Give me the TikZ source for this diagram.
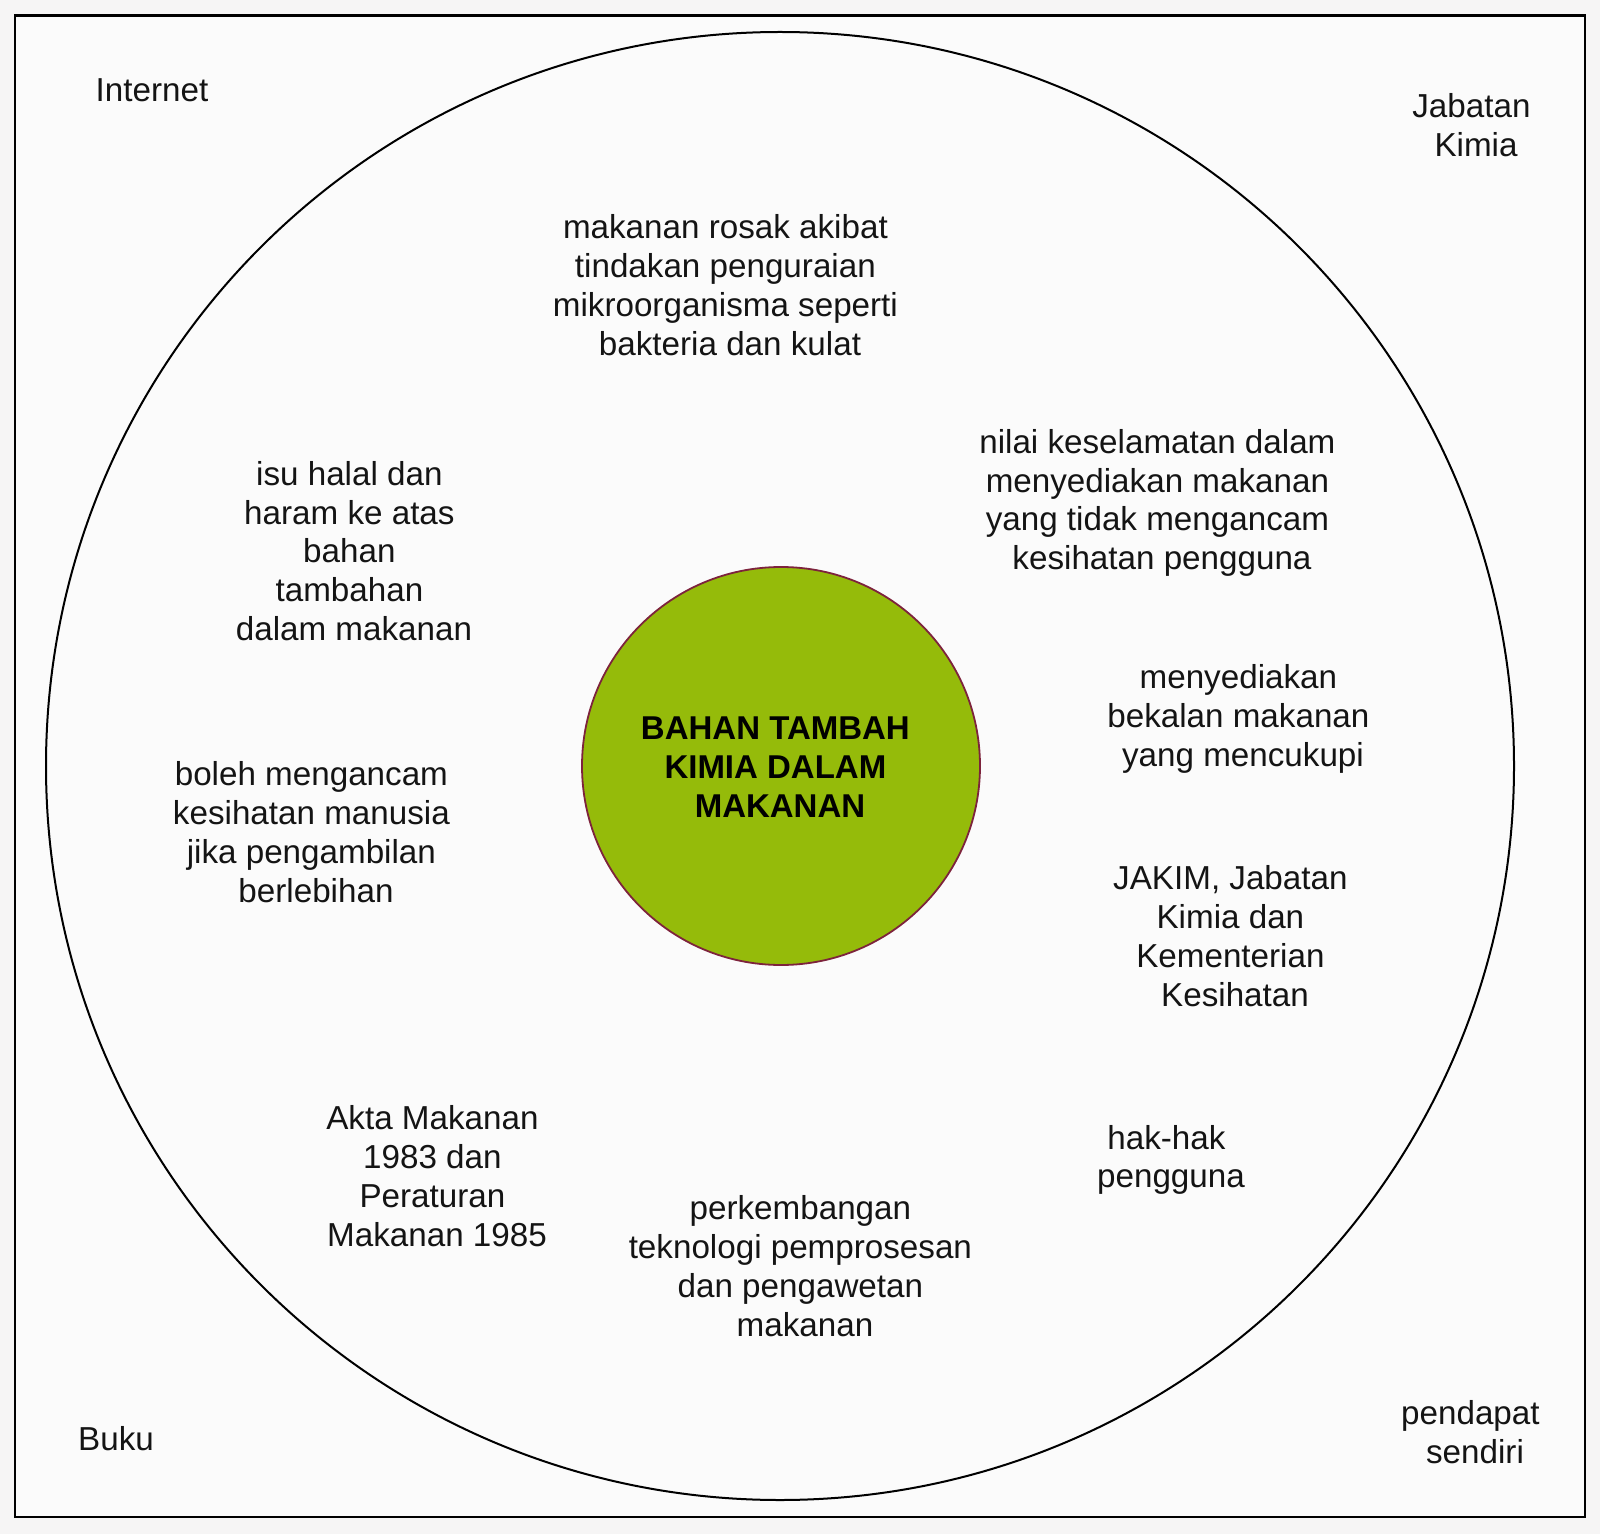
\documentclass[tikz,border=0pt]{standalone}
\usepackage{fontspec}
\setmainfont{Liberation Sans}
\definecolor{bg}{RGB}{246,245,245}
\definecolor{hubgreen}{RGB}{149,187,10}
\definecolor{hubedge}{RGB}{125,35,60}
\newcommand\tsp{\kern4.6pt}
\begin{document}
\begin{tikzpicture}[x=0.5pt,y=-0.5pt,
  lbl/.style={align=center,font=\fontsize{16.6}{19.4}\selectfont,inner sep=0pt,text=black!92},
  hubtxt/.style={align=center,font=\fontsize{16.5}{19.4}\selectfont\bfseries,inner sep=0pt}]
\useasboundingbox (0,0) rectangle (1600,1534);
\fill[bg] (0,0) rectangle (1600,1534);
\draw[line width=1.2pt,fill=white!60!bg] (15,15.5) rectangle (1585,1517);
\node[circle,draw=black,line width=1pt,minimum size=734pt,inner sep=0pt] (outer) at (780,766) {};
\node[circle,draw=hubedge,fill=hubgreen,line width=0.9pt,minimum size=199pt,inner sep=0pt] (hub) at (781,766) {};
\node[hubtxt] (hubt) at (780,767) {BAHAN TAMBAH\tsp\\KIMIA DALAM\tsp\\MAKANAN};

\node[lbl] (internet) at (152,90) {Internet};
\node[lbl] (jkimia) at (1476,125) {Jabatan\tsp\\Kimia};
\node[lbl] (buku) at (116,1439) {Buku};
\node[lbl] (pendapat) at (1475,1432) {pendapat\tsp\\sendiri};

\node[lbl] (rosak) at (730,285) {makanan rosak akibat\tsp\\tindakan penguraian\tsp\\mikroorganisma seperti\tsp\\bakteria dan kulat};
\node[lbl] (halal) at (354,551) {isu halal dan\tsp\\haram ke atas\tsp\\bahan\tsp\\tambahan\tsp\\dalam makanan};
\node[lbl] (nilai) at (1162,503) {nilai keselamatan dalam\tsp\\menyediakan makanan\tsp\\yang tidak mengancam\tsp\\kesihatan pengguna};
\node[lbl] (bekalan) at (1243,719) {menyediakan\tsp\\bekalan makanan\tsp\\yang mencukupi};
\node[lbl] (boleh) at (316,832) {boleh mengancam\tsp\\kesihatan manusia\tsp\\jika pengambilan\tsp\\berlebihan};
\node[lbl] (jakim) at (1235,936) {JAKIM, Jabatan\tsp\\Kimia dan\tsp\\Kementerian\tsp\\Kesihatan};
\node[lbl] (akta) at (437,1176) {Akta Makanan\tsp\\1983 dan\tsp\\Peraturan\tsp\\Makanan 1985};
\node[lbl] (hak) at (1171,1160) {hak-hak\tsp\\pengguna};
\node[lbl] (teknologi) at (805,1266) {perkembangan\tsp\\teknologi pemprosesan\tsp\\dan pengawetan\tsp\\makanan};
\end{tikzpicture}
\end{document}
